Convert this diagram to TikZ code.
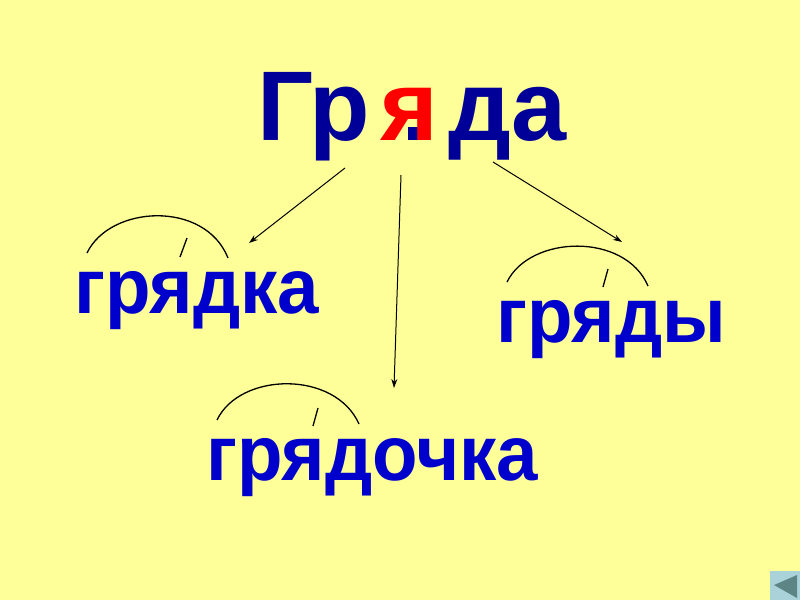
\documentclass[tikz,border=0pt]{standalone}
\usepackage{fontspec}
\setmainfont{Liberation Sans}
\usetikzlibrary{arrows.meta}
\definecolor{bg}{HTML}{FFFF99}
\definecolor{navy}{HTML}{000099}
\definecolor{wordblue}{HTML}{0000CC}
\definecolor{iconbg}{HTML}{A9D3D9}
\definecolor{icontri}{HTML}{5E8585}
\newcommand{\wordtext}[1]{\scalebox{0.955}[1]{#1}}
\tikzset{
  title/.style={inner sep=0pt, anchor=base west, font=\fontsize{99}{99}\selectfont\bfseries, text=navy},
  word/.style={inner sep=0pt, anchor=base west, font=\fontsize{78}{78}\selectfont\bfseries, text=wordblue},
  link/.style={draw=black, line width=1pt, -{Stealth[length=9pt,width=6pt]}},
  rootarc/.style={draw=black, line width=1.3pt},
}
\begin{document}
\begin{tikzpicture}[x=1pt,y=-1pt]
\useasboundingbox (0,0) rectangle (800,600);
\fill[bg] (0,0) rectangle (800,600);
% title
\node[title] (t1) at (257,140) {Гр};
\fill[navy] (408,127) rectangle (420,140);
\node[title, text=red] (t2) at (380,140) {я};
\node[title] (t3) at (448,140) {да};
% words
\node[word] (w1) at (74,313) {\wordtext{грядка}};
\node[word] (w2) at (496,342) {\wordtext{гряды}};
\node[word] (w3) at (206,480) {\wordtext{грядочка}};
% arrows
\coordinate (s1) at (345,168);
\coordinate (e1) at (249,243);
\coordinate (s2) at (401,175);
\coordinate (e2) at (394,388);
\coordinate (s3) at (493,162);
\coordinate (e3) at (622,242);
\draw[link] (s1) -- (e1);
\draw[link] (s2) -- (e2);
\draw[link] (s3) -- (e3);
% root arcs
\draw[rootarc] (87,253) .. controls (110,205) and (205,200) .. (228,258);
\draw[rootarc] (187,238) -- (180,257);
\draw[rootarc] (507,282) .. controls (530,235) and (625,232) .. (648,286);
\draw[rootarc] (608,269) -- (603,287);
\draw[rootarc] (217,420) .. controls (240,372) and (335,370) .. (359,424);
\draw[rootarc] (318,408) -- (313,426);
% icon
\fill[iconbg] (770,571) rectangle (800,600);
\fill[icontri] (774,585) -- (797,575) -- (797,598) -- cycle;
\end{tikzpicture}
\end{document}
